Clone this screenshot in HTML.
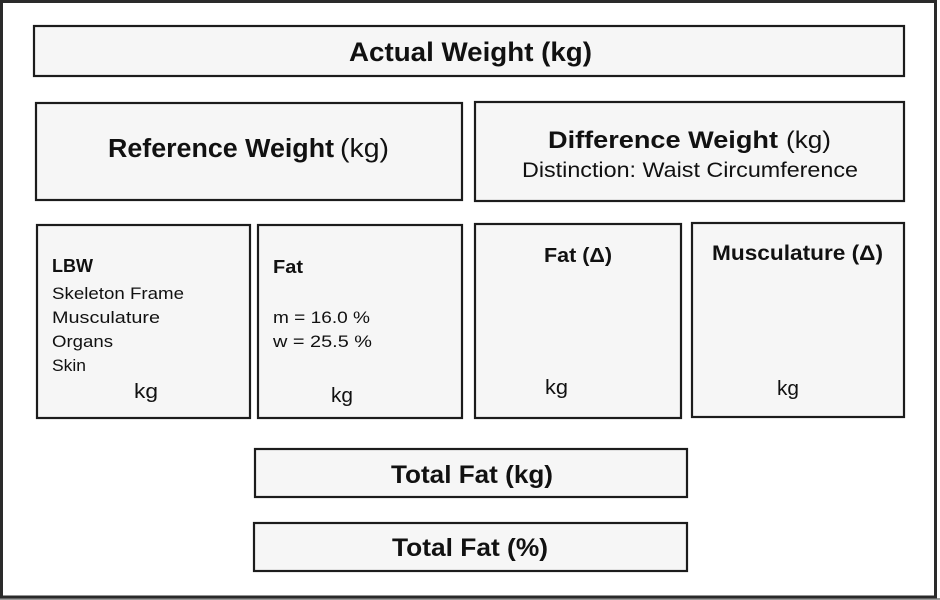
<!DOCTYPE html>
<html><head><meta charset="utf-8"><style>
html,body{margin:0;padding:0;background:#fff;}
svg{display:block;}
text{font-family:"Liberation Sans",Arial,sans-serif;fill:#111;}
.b{font-weight:bold;}
</style></head><body>
<svg width="940" height="600" viewBox="0 0 940 600" xmlns="http://www.w3.org/2000/svg">
<rect x="0" y="0" width="940" height="600" fill="#fff"/>
<rect x="0" y="598" width="940" height="2" fill="#9a9a9a"/>
<rect x="1.5" y="1.5" width="934" height="595.5" fill="#fff" stroke="#2a2a2a" stroke-width="3"/>
<g fill="#f6f6f6" stroke="#1c1c1c" stroke-width="2.2">
<rect x="34" y="26" width="870" height="50"/>
<rect x="36" y="103" width="426" height="97"/>
<rect x="475" y="102" width="429" height="99"/>
<rect x="37" y="225" width="213" height="193"/>
<rect x="258" y="225" width="204" height="193"/>
<rect x="475" y="224" width="206" height="194"/>
<rect x="692" y="223" width="212" height="194"/>
<rect x="255" y="449" width="432" height="48"/>
<rect x="254" y="523" width="433" height="48"/>
</g>
<text class="b" x="349" y="61" font-size="26.5" textLength="243" lengthAdjust="spacingAndGlyphs">Actual Weight (kg)</text>
<text class="b" x="108" y="157" font-size="25.5" textLength="226" lengthAdjust="spacingAndGlyphs">Reference Weight</text>
<text x="340" y="157" font-size="25.5" textLength="49" lengthAdjust="spacingAndGlyphs">(kg)</text>
<text class="b" x="548" y="148" font-size="24.5" textLength="230" lengthAdjust="spacingAndGlyphs">Difference Weight</text>
<text x="786" y="148" font-size="24.5" textLength="45" lengthAdjust="spacingAndGlyphs">(kg)</text>
<text x="522" y="177" font-size="21" textLength="336" lengthAdjust="spacingAndGlyphs">Distinction: Waist Circumference</text>
<text class="b" x="52" y="272" font-size="18.5" textLength="41" lengthAdjust="spacingAndGlyphs">LBW</text>
<text x="52" y="299" font-size="16.5" textLength="132" lengthAdjust="spacingAndGlyphs">Skeleton Frame</text>
<text x="52" y="323" font-size="16.5" textLength="108" lengthAdjust="spacingAndGlyphs">Musculature</text>
<text x="52" y="347" font-size="16.5" textLength="61" lengthAdjust="spacingAndGlyphs">Organs</text>
<text x="52" y="371" font-size="16.5" textLength="34" lengthAdjust="spacingAndGlyphs">Skin</text>
<text x="134" y="398" font-size="20.5" textLength="24" lengthAdjust="spacingAndGlyphs">kg</text>
<text class="b" x="273" y="273" font-size="18.5" textLength="30" lengthAdjust="spacingAndGlyphs">Fat</text>
<text x="273" y="323" font-size="16.5" textLength="97" lengthAdjust="spacingAndGlyphs">m = 16.0 %</text>
<text x="273" y="347" font-size="16.5" textLength="99" lengthAdjust="spacingAndGlyphs">w  = 25.5 %</text>
<text x="331" y="402" font-size="20.5" textLength="22" lengthAdjust="spacingAndGlyphs">kg</text>
<text class="b" x="544" y="262" font-size="20.5" textLength="68" lengthAdjust="spacingAndGlyphs">Fat (Δ)</text>
<text x="545" y="394" font-size="20.5" textLength="23" lengthAdjust="spacingAndGlyphs">kg</text>
<text class="b" x="712" y="260" font-size="21" textLength="171" lengthAdjust="spacingAndGlyphs">Musculature (Δ)</text>
<text x="777" y="395" font-size="20.5" textLength="22" lengthAdjust="spacingAndGlyphs">kg</text>
<text class="b" x="391" y="483" font-size="25" textLength="162" lengthAdjust="spacingAndGlyphs">Total Fat (kg)</text>
<text class="b" x="392" y="556" font-size="25" textLength="156" lengthAdjust="spacingAndGlyphs">Total Fat (%)</text>
</svg>
</body></html>
